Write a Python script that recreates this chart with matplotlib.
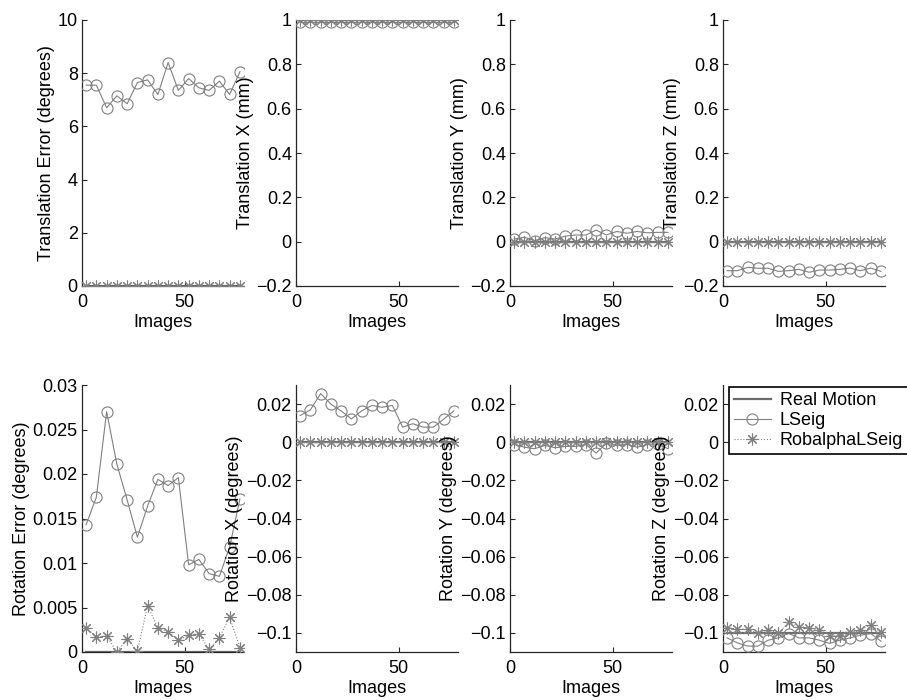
import matplotlib
matplotlib.use("Agg")
import matplotlib.pyplot as plt
import numpy as np

plt.rcParams['font.family'] = ['Liberation Sans', 'DejaVu Sans']
plt.rcParams['font.size'] = 13

# ---------------- data ----------------
images = [2, 7, 12, 17, 22, 27, 32, 37, 42, 47, 52, 57, 62, 67, 72, 77]

# Translation error (degrees)
te_real = [0]*16
te_ls = [7.55, 7.55, 6.7, 7.15, 6.85, 7.65, 7.75, 7.2, 8.4, 7.35, 7.8, 7.45, 7.35, 7.7, 7.2, 8.05]
te_rob = [0]*16

# Translation X (mm)
tx_real = [1]*16
tx_ls = [0.99]*16
tx_rob = [1]*16

# Translation Y (mm)
ty_real = [0]*16
ty_ls = [0.012, 0.02, 0.005, 0.018, 0.012, 0.025, 0.03, 0.03, 0.052, 0.03, 0.046, 0.038, 0.046, 0.04, 0.042, 0.042]
ty_rob = [0]*16

# Translation Z (mm)
tz_real = [0]*16
tz_ls = [-0.131, -0.131, -0.116, -0.12, -0.12, -0.134, -0.131, -0.125, -0.138, -0.128, -0.128, -0.125, -0.119, -0.131, -0.119, -0.134]
tz_rob = [0]*16

# Rotation error (degrees)
re_real = [0]*16
re_ls = [0.0143, 0.0174, 0.0270, 0.0211, 0.0171, 0.0129, 0.0164, 0.0194, 0.0187, 0.0196,
         0.0098, 0.0104, 0.0088, 0.0085, 0.0118, 0.0172]
re_rob = [0.0027, 0.0017, 0.0018, 0.0, 0.0015, 0.0001, 0.0052, 0.0027, 0.0023, 0.0013,
          0.0019, 0.0020, 0.0003, 0.0016, 0.0039, 0.0005]

# Rotation X (degrees)
rx_real = [0]*16
rx_ls = [0.014, 0.0169, 0.0255, 0.02, 0.0164, 0.0122, 0.0164, 0.0193, 0.0183, 0.0193,
         0.0079, 0.0097, 0.0079, 0.0079, 0.0121, 0.0164]
rx_rob = [0]*16

# Rotation Y (degrees)
ry_real = [0]*16
ry_ls = [-0.0012, -0.0026, -0.0034, -0.0017, -0.0029, -0.0022, -0.0022, -0.0012, -0.0057, -0.0005,
         -0.0017, -0.0012, -0.0026, -0.0012, -0.0008, -0.0034]
ry_rob = [0]*16

# Rotation Z (degrees)
rz_real = [-0.1]*16
rz_ls = [-0.1026, -0.1052, -0.1069, -0.1069, -0.1038, -0.1026, -0.1003, -0.1026, -0.1026, -0.1038,
         -0.1055, -0.1038, -0.1026, -0.1012, -0.1003, -0.1043]
rz_rob = [-0.0973, -0.0981, -0.0981, -0.1, -0.0985, -0.1, -0.0945, -0.0967, -0.0973, -0.0985,
          -0.1014, -0.1014, -0.0997, -0.0985, -0.0958, -0.0997]

ylabels = ["Translation Error (degrees)", "Translation X (mm)", "Translation Y (mm)", "Translation Z (mm)",
           "Rotation Error (degrees)", "Rotation X (degrees)", "Rotation Y (degrees)", "Rotation Z (degrees)"]
series = [(te_real, te_ls, te_rob), (tx_real, tx_ls, tx_rob), (ty_real, ty_ls, ty_rob), (tz_real, tz_ls, tz_rob),
          (re_real, re_ls, re_rob), (rx_real, rx_ls, rx_rob), (ry_real, ry_ls, ry_rob), (rz_real, rz_ls, rz_rob)]
ylims = [(0, 10), (-0.2, 1), (-0.2, 1), (-0.2, 1),
         (0, 0.03), (-0.11, 0.03), (-0.11, 0.03), (-0.11, 0.03)]
yticks = [[0, 2, 4, 6, 8, 10], [-0.2, 0, 0.2, 0.4, 0.6, 0.8, 1], [-0.2, 0, 0.2, 0.4, 0.6, 0.8, 1], [-0.2, 0, 0.2, 0.4, 0.6, 0.8, 1],
          [0, 0.005, 0.01, 0.015, 0.02, 0.025, 0.03], [-0.1, -0.08, -0.06, -0.04, -0.02, 0, 0.02],
          [-0.1, -0.08, -0.06, -0.04, -0.02, 0, 0.02], [-0.1, -0.08, -0.06, -0.04, -0.02, 0, 0.02]]
ytlabels = [["0", "2", "4", "6", "8", "10"], ["\u22120.2", "0", "0.2", "0.4", "0.6", "0.8", "1"],
            ["\u22120.2", "0", "0.2", "0.4", "0.6", "0.8", "1"], ["\u22120.2", "0", "0.2", "0.4", "0.6", "0.8", "1"],
            ["0", "0.005", "0.01", "0.015", "0.02", "0.025", "0.03"],
            ["\u22120.1", "\u22120.08", "\u22120.06", "\u22120.04", "\u22120.02", "0", "0.02"],
            ["\u22120.1", "\u22120.08", "\u22120.06", "\u22120.04", "\u22120.02", "0", "0.02"],
            ["\u22120.1", "\u22120.08", "\u22120.06", "\u22120.04", "\u22120.02", "0", "0.02"]]

W, H = 907, 700
fig = plt.figure(figsize=(W/100, H/100), dpi=100)
lefts = [82, 296, 510, 723]
tops = [20, 385]
bottoms = [286, 652]
width = 162

c_real = '0.42'
c_ls = '0.5'
c_rob = '0.5'
star = (8, 2, 0)

axes = []
for i in range(8):
    r, c = divmod(i, 4)
    l = lefts[c] / W
    b = 1 - bottoms[r] / H
    h = (bottoms[r] - tops[r]) / H
    ax = fig.add_axes([l, b, width / W, h])
    real, ls, rob = series[i]
    ax.plot(images, real, '-', color=c_real, lw=1.6, label='Real Motion', zorder=2)
    ax.plot(images, ls, '-', color=c_ls, lw=0.8, marker='o', ms=8, mfc='none', mec=c_ls, mew=0.8,
            label='LSeig', zorder=3)
    ax.plot(images, rob, ':', color=c_rob, lw=0.8, marker=star, ms=8.5, mec=c_rob, mew=0.8,
            label='RobalphaLSeig', zorder=3)
    ax.set_xlim(0, 79)
    ax.set_ylim(*ylims[i])
    ax.set_xticks([0, 50])
    ax.set_yticks(yticks[i])
    ax.set_yticklabels(ytlabels[i])
    ax.set_xlabel('Images', labelpad=2)
    ax.set_ylabel(ylabels[i], labelpad=2)
    for s in ['top', 'right']:
        ax.spines[s].set_visible(False)
    for s in ['left', 'bottom']:
        ax.spines[s].set_color('0.15')
        ax.spines[s].set_linewidth(0.9)
    ax.tick_params(direction='in', length=3.5, width=0.8, colors='0.15', labelcolor='black', pad=3)
    ax.tick_params(axis='x', pad=6)
    ax.patch.set_alpha(0)
    for sp in ax.spines.values():
        sp.set_clip_on(False)
    axes.append(ax)

leg = axes[7].legend(loc='upper left', bbox_to_anchor=(729 / W, 1 - 387 / H), bbox_transform=fig.transFigure,
                     frameon=True, fancybox=False, borderpad=0.3, handlelength=2.0, handletextpad=0.5,
                     labelspacing=0.15, borderaxespad=0)
leg.get_frame().set_edgecolor('black')
leg.get_frame().set_linewidth(1.2)
leg.get_frame().set_alpha(1)

fig.savefig('out.png', dpi=100)
